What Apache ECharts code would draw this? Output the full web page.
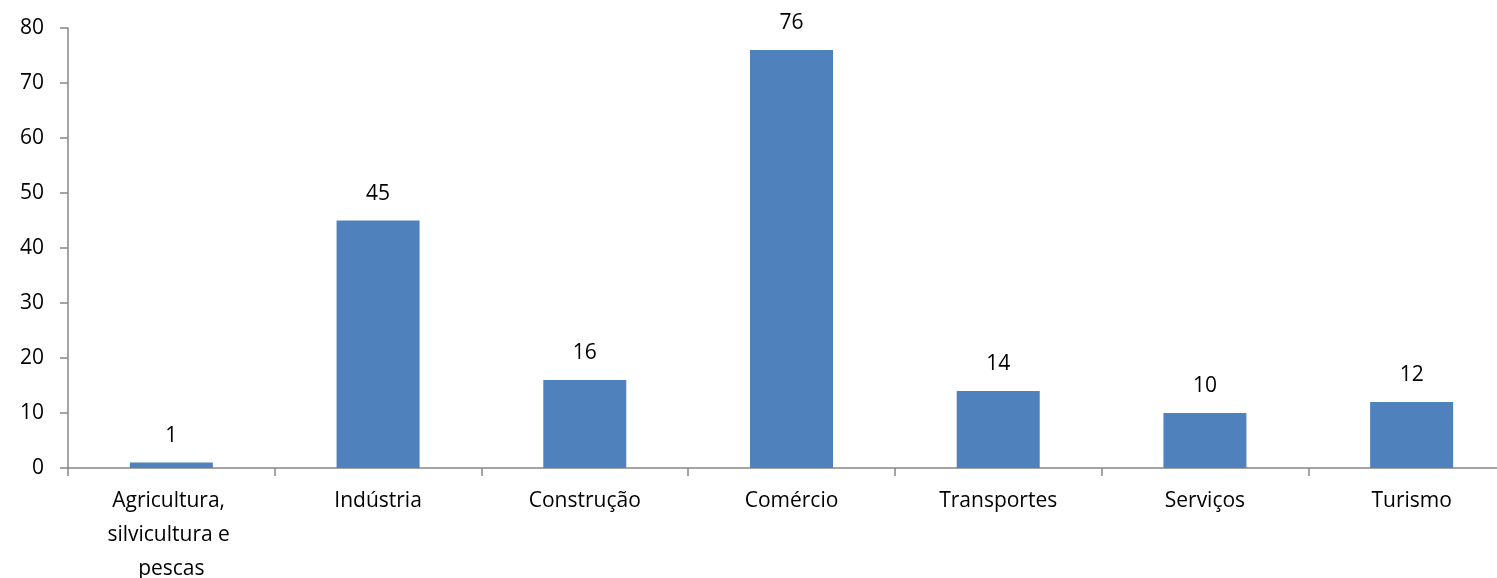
<!DOCTYPE html>
<html><head><meta charset="utf-8">
<script src="https://cdn.jsdelivr.net/npm/echarts@6/dist/echarts.min.js"></script>
<style>html,body{margin:0;padding:0;background:#fff;overflow:hidden}#c{width:1497px;height:578px}</style>
</head><body><div id="c"></div>
<script>
const categories = ["Agricultura, silvicultura e pescas","Indústria","Construção","Comércio","Transportes","Serviços","Turismo"];
const values = [1,45,16,76,14,10,12];
const yTicks = {min:0,max:80,interval:10};
const font = "Open Sans";
const chart = echarts.init(document.getElementById('c'));
chart.setOption({
  animation:false,
  grid:{left:68,right:-18,top:28,bottom:110,containLabel:false,outerBoundsMode:'none'},
  xAxis:{type:'category',data:categories,
    axisLine:{lineStyle:{color:'#868686',width:1.5}},
    axisTick:{show:true,length:8,alignWithLabel:false,lineStyle:{color:'#868686',width:1.5}},
    axisLabel:{interval:0,margin:16,color:'#000',fontFamily:font,fontSize:21,lineHeight:34,width:170,overflow:'break'}},
  yAxis:{type:'value',min:yTicks.min,max:yTicks.max,interval:yTicks.interval,
    splitLine:{show:false},
    axisLine:{show:true,lineStyle:{color:'#868686',width:1.5}},
    axisTick:{show:true,length:8,lineStyle:{color:'#868686',width:1.5}},
    axisLabel:{margin:24,color:'#000',fontFamily:font,fontSize:21}},
  series:[{type:'bar',data:values,barWidth:83,
    itemStyle:{color:'#4F81BD'},
    label:{show:true,position:'top',distance:16,color:'#000',fontFamily:font,fontSize:21}}]
});
</script></body></html>
